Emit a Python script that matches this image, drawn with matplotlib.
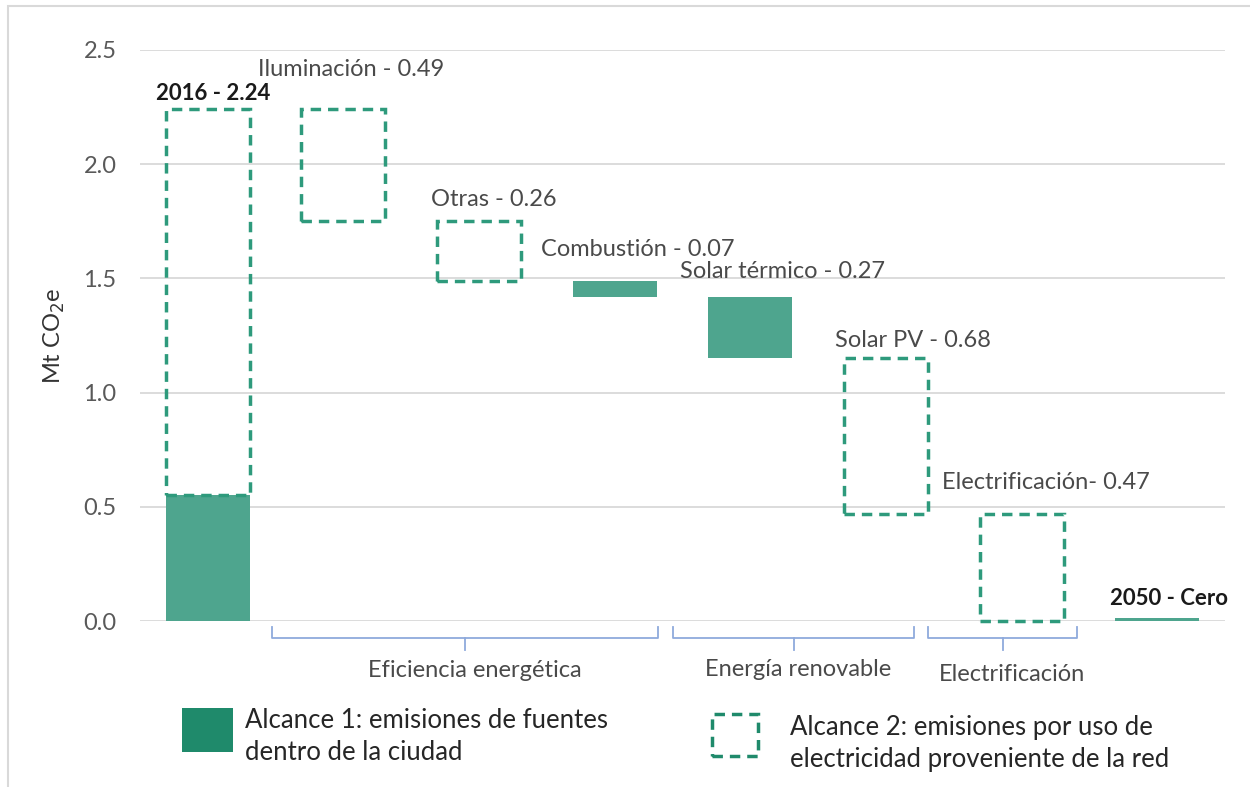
import matplotlib
matplotlib.use("Agg")
import matplotlib.pyplot as plt
from matplotlib.patches import Rectangle

plt.rcParams['font.family'] = ['Lato', 'DejaVu Sans']

# Data
labels = ["2016 - 2.24", "Iluminación - 0.49", "Otras - 0.26", "Combustión - 0.07",
          "Solar térmico - 0.27", "Solar PV - 0.68", "Electrificación- 0.47", "2050 - Cero"]
bottoms = [0.0, 1.75, 1.49, 1.42, 1.15, 0.47, 0.0, 0.0]
tops = [2.24, 2.24, 1.75, 1.49, 1.42, 1.15, 0.47, 0.012]
scope = ["mixed", "2", "2", "1", "1", "2", "2", "1"]
scope1_2016 = 0.55
groups = ["Eficiencia energética", "Energía renovable", "Electrificación"]
group_spans = [(0.47, 3.32), (3.43, 5.21), (5.31, 6.41)]
yticks = [0.0, 0.5, 1.0, 1.5, 2.0, 2.5]

solid_c = "#4EA58E"
dash_c = "#2E9A7C"
legend_c = "#1F8A6B"
txt_c = "#4a4a4a"

fig = plt.figure(figsize=(12.5, 7.87), dpi=100)
W, H = 1250, 787
ax = fig.add_axes([140 / W, 1 - 621 / H, (1225 - 140) / W, (621 - 50) / H])
ax.set_xlim(-0.5, 7.5)
ax.set_ylim(0, 2.5)

bw = 0.62
for i, (b, t, s) in enumerate(zip(bottoms, tops, scope)):
    x0 = i - bw / 2
    if s == "mixed":
        ax.add_patch(Rectangle((x0, 0), bw, scope1_2016, facecolor=solid_c, edgecolor='none'))
        ax.add_patch(Rectangle((x0, scope1_2016), bw, t - scope1_2016, facecolor='none',
                               edgecolor=dash_c, lw=2.5, ls=(0, (3, 2)), clip_on=False))
    elif s == "1":
        ax.add_patch(Rectangle((x0, b), bw, t - b, facecolor=solid_c, edgecolor='none', clip_on=False))
    else:
        ax.add_patch(Rectangle((x0, b), bw, t - b, facecolor='none', edgecolor=dash_c,
                               lw=2.5, ls=(0, (3, 2)), clip_on=False))

# value labels (positions in axis data coords)
lab_pos = [(0.04, 2.31), (1.06, 2.415), (2.11, 1.845), (3.17, 1.625),
           (4.24, 1.53), (5.2, 1.23), (6.18, 0.605), (7.09, 0.1)]
for i, (lab, (x, y)) in enumerate(zip(labels, lab_pos)):
    bold = i in (0, 7)
    ax.text(x, y, lab, ha='center', va='center', fontsize=16 if bold else 17,
            color='#1a1a1a' if bold else txt_c, fontweight='bold' if bold else 'normal')

ax.set_yticks(yticks)
ax.set_yticklabels([f"{v:.1f}" for v in yticks], fontsize=17, color='#595959')
ax.set_xticks([])
ax.tick_params(axis='y', length=0, pad=17)
ax.grid(axis='y', color='#D9D9D9', lw=1.3)
ax.set_axisbelow(True)
for sp in ax.spines.values():
    sp.set_visible(False)
ax.set_ylabel("Mt CO$_2$e", fontsize=17, color='#333333', labelpad=12)

# brackets below the axis
trans = ax.get_xaxis_transform()
br_c = "#8FAADC"
ytop, ymid, ybot = -0.010, -0.030, -0.050
for (a, b), g in zip(group_spans, groups):
    ax.plot([a, a, b, b], [ytop, ymid, ymid, ytop], transform=trans, color=br_c, lw=1.3, clip_on=False)
    m = (a + b) / 2
    ax.plot([m, m], [ymid, ybot], transform=trans, color=br_c, lw=1.3, clip_on=False)
gl_pos = [(1.97, -0.087), (4.35, -0.085), (5.93, -0.094)]
for g, (x, y) in zip(groups, gl_pos):
    ax.text(x, y, g, transform=trans, ha='center', va='center', fontsize=17, color=txt_c)

# legend
fig.patches.append(Rectangle((182 / W, 1 - 752 / H), 51 / W, 44 / H, transform=fig.transFigure,
                             facecolor=legend_c, edgecolor='none'))
fig.patches.append(Rectangle((712 / W, 1 - 756 / H), 46 / W, 42 / H, transform=fig.transFigure,
                             facecolor='none', edgecolor=legend_c, lw=2.5, ls=(0, (3, 2))))
fig.text(245 / W, 1 - 736 / H, "Alcance 1: emisiones de fuentes\ndentro de la ciudad",
         fontsize=18.5, color='#262626', va='center', ha='left', linespacing=1.35)
fig.text(790 / W, 1 - 743 / H, "Alcance 2: emisiones por uso de\nelectricidad proveniente de la red",
         fontsize=18.5, color='#262626', va='center', ha='left', linespacing=1.35)

# outer frame
fig.patches.append(Rectangle((8 / W, -0.01), 1.1, 1 - 6 / H + 0.01, transform=fig.transFigure,
                             facecolor='none', edgecolor='#D9D9D9', lw=1.5))

fig.savefig("out.png", dpi=100)
